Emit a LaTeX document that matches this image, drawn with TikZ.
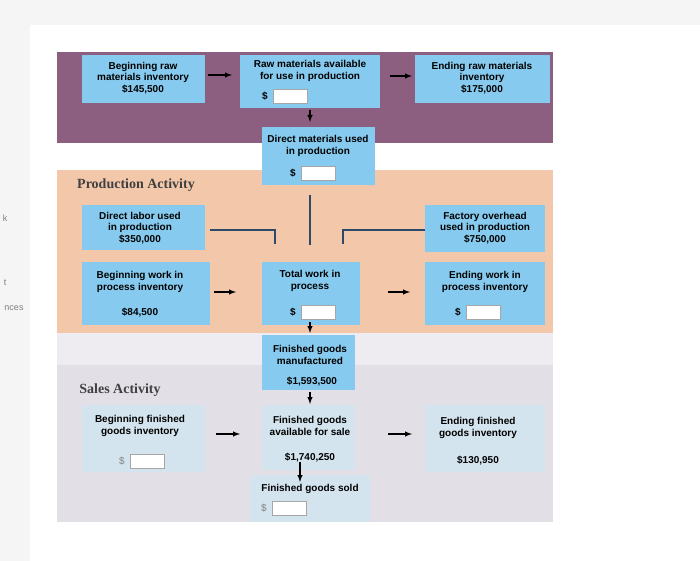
\documentclass[tikz,border=0pt]{standalone}
\usepackage{fontspec}
\setmainfont{Liberation Sans}
\newfontfamily\titlefont{Liberation Serif}
\usepackage{tikz}
\usetikzlibrary{positioning}
\definecolor{bandpurple}{HTML}{8C5E80}
\definecolor{bandpeach}{HTML}{F3C7AA}
\definecolor{bandgray}{HTML}{E2DFE6}
\definecolor{boxblue}{HTML}{86CBEF}
\definecolor{boxpale}{HTML}{D4E4EE}
\definecolor{linknavy}{HTML}{2E4868}
\tikzset{
  box/.style={fill=boxblue,align=center,font=\fontsize{10}{11.5}\selectfont\bfseries,inner sep=2pt},
  pale/.style={box,fill=boxpale},
  blank/.style={draw=gray!70,fill=white,minimum width=34pt,minimum height=14pt,inner sep=0pt},
  flow/.style={-latex,thick,line width=1.4pt},
  link/.style={linknavy,line width=2.5pt},
  title/.style={font=\fontsize{14}{16}\titlefont\bfseries\selectfont,text=black!75}
}
\begin{document}
\begin{tikzpicture}[x=1pt,y=-1pt]
  \useasboundingbox (0,0) rectangle (700,561);
  \fill[black!4] (0,0) rectangle (700,561);
  \fill[white] (30,25) rectangle (700,561);
  % bands
  \fill[bandpurple] (57,52) rectangle (553,143);
  \fill[bandpeach] (57,170) rectangle (553,333);
  \fill[bandgray!60] (57,333) rectangle (553,365);
  \fill[bandgray] (57,365) rectangle (553,522);
  % stray text at the left edge
  \node[font=\small,text=gray] (k) at (5,218) {k};
  \node[font=\small,text=gray] (t) at (5,283) {t};
  \node[font=\small,text=gray] (nces) at (14,308) {nces};
  % raw materials row
  \fill[boxblue] (82,55) rectangle (205,103);
  \node[box] (begraw) at (143,78) {Beginning raw\\materials inventory\\\$145,500};
  \fill[boxblue] (240,55) rectangle (380,108);
  \node[box] (rawavail) at (310,71) {Raw materials available\\for use in production};
  \node[font=\bfseries] (rawdollar) at (265,96) {\$};
  \node[blank,right=2pt of rawdollar] (rawin) {};
  \fill[boxblue] (415,55) rectangle (550,103);
  \node[box] (endraw) at (482,78) {Ending raw materials\\inventory\\\$175,000};
  % direct materials
  \fill[boxblue] (262,127) rectangle (375,185);
  \node[box] (dm) at (318,146) {Direct materials used\\in production};
  \node[font=\bfseries] (dmdollar) at (293,173) {\$};
  \node[blank,right=2pt of dmdollar] (dmin) {};
  \node[title] (prod) at (136,185) {Production Activity};
  % production row
  \fill[boxblue] (82,205) rectangle (205,250);
  \node[box] (labor) at (140,228) {Direct labor used\\in production\\\$350,000};
  \fill[boxblue] (425,205) rectangle (545,252);
  \node[box] (ovh) at (485,228) {Factory overhead\\used in production\\\$750,000};
  \fill[boxblue] (82,262) rectangle (210,325);
  \node[box] (begwip) at (140,282) {Beginning work in\\process inventory};
  \node[box,fill=none] (begwipval) at (140,313) {\$84,500};
  \fill[boxblue] (262,262) rectangle (360,325);
  \node[box] (totwip) at (310,281) {Total work in\\process};
  \node[font=\bfseries] (wipdollar) at (293,312) {\$};
  \node[blank,right=2pt of wipdollar] (wipin) {};
  \fill[boxblue] (425,262) rectangle (545,325);
  \node[box] (endwip) at (485,282) {Ending work in\\process inventory};
  \node[font=\bfseries] (ewdollar) at (458,312) {\$};
  \node[blank,right=2pt of ewdollar] (ewin) {};
  % finished goods manufactured
  \fill[boxblue] (262,335) rectangle (355,390);
  \node[box] (fgm) at (310,355) {Finished goods\\manufactured};
  \node[box,fill=none] (fgmval) at (312,382) {\$1,593,500};
  % sales
  \node[title] (sales) at (120,390) {Sales Activity};
  \fill[boxpale] (82,405) rectangle (205,472);
  \node[pale,fill=none] (begfg) at (140,426) {Beginning finished\\goods inventory};
  \node[text=gray] (bfdollar) at (122,461) {\$};
  \node[blank,right=2pt of bfdollar] (bfin) {};
  \fill[boxpale] (262,405) rectangle (355,470);
  \node[pale,fill=none] (fgavail) at (310,426) {Finished goods\\available for sale};
  \node[pale,fill=none] (fgavailval) at (310,458) {\$1,740,250};
  \fill[boxpale] (425,405) rectangle (545,472);
  \node[pale,fill=none] (endfg) at (478,428) {Ending finished\\goods inventory};
  \node[pale,fill=none] (endfgval) at (478,461) {\$130,950};
  \fill[boxpale] (250,475) rectangle (370,522);
  \node[pale,fill=none] (fgsold) at (310,489) {Finished goods sold};
  \node[text=gray] (fsdollar) at (264,508) {\$};
  \node[blank,right=2pt of fsdollar] (fsin) {};
  % flow arrows
  \draw[flow] (208,75) -- (232,75);
  \draw[flow] (390,76) -- (412,76);
  \draw[flow] (310,110) -- (310,122);
  \draw[flow] (214,292) -- (236,292);
  \draw[flow] (388,292) -- (410,292);
  \draw[flow] (310,322) -- (310,333);
  \draw[flow] (310,392) -- (310,404);
  \draw[flow] (216,434) -- (240,434);
  \draw[flow] (388,434) -- (412,434);
  \draw[flow] (300,462) -- (300,482);
  % links into total work in process
  \coordinate (lk1) at (275,230);
  \coordinate (lk2) at (343,230);
  \draw[link] (210,230) -- (lk1) -- ++(0,14);
  \draw[link] (425,230) -- (lk2) -- ++(0,14);
  \draw[link] (310,195) -- (310,245);
\end{tikzpicture}
\end{document}
